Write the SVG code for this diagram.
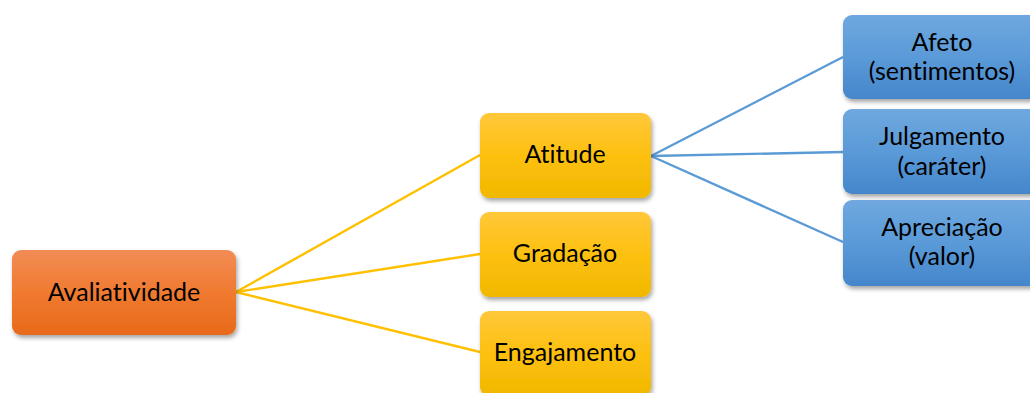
<svg xmlns="http://www.w3.org/2000/svg" width="1030" height="393" viewBox="0 0 1030 393">
<defs>
<linearGradient id="gO" x1="0" y1="0" x2="0" y2="1">
<stop offset="0" stop-color="#F28C55"/><stop offset="0.5" stop-color="#F07A30"/><stop offset="1" stop-color="#E86A1A"/>
</linearGradient>
<linearGradient id="gY" x1="0" y1="0" x2="0" y2="1">
<stop offset="0" stop-color="#FFC83A"/><stop offset="0.5" stop-color="#FDC010"/><stop offset="1" stop-color="#F0B800"/>
</linearGradient>
<linearGradient id="gB" x1="0" y1="0" x2="0" y2="1">
<stop offset="0" stop-color="#6FA8DF"/><stop offset="0.5" stop-color="#5A9AD8"/><stop offset="1" stop-color="#4586CB"/>
</linearGradient>
<filter id="sh" x="-10%" y="-10%" width="125%" height="135%">
<feDropShadow dx="1.5" dy="3" stdDeviation="2.2" flood-color="#000" flood-opacity="0.35"/>
</filter>
</defs>
<style>
.n{filter:url(#sh)}
.t{font-family:Lato,"Liberation Sans",sans-serif;font-size:25px;fill:#000;text-anchor:middle;font-variant-ligatures:none;font-feature-settings:"liga" 0,"dlig" 0}
.ly{stroke:#FFC000;stroke-width:2.4;fill:none}
.lb{stroke:#5B9BD5;stroke-width:2.4;fill:none}
</style>
<rect width="1030" height="393" fill="#fff"/>
<g id="connectors">
<line class="ly" x1="236" y1="292" x2="480" y2="155"/>
<line class="ly" x1="236" y1="292" x2="480" y2="254"/>
<line class="ly" x1="236" y1="292" x2="480" y2="352"/>
<line class="lb" x1="651" y1="156" x2="843" y2="57"/>
<line class="lb" x1="651" y1="156" x2="843" y2="152"/>
<line class="lb" x1="651" y1="156" x2="843" y2="242"/>
</g>
<g id="avaliatividade">
<rect class="n" x="12" y="250" width="224" height="85" rx="9" fill="url(#gO)"/>
<text class="t" x="124" y="301">Avaliatividade</text>
</g>
<g id="atitude">
<rect class="n" x="480" y="113" width="171" height="85" rx="9" fill="url(#gY)"/>
<text class="t" x="565" y="163">Atitude</text>
</g>
<g id="gradacao">
<rect class="n" x="480" y="212" width="171" height="85" rx="9" fill="url(#gY)"/>
<text class="t" x="565" y="262">Gradação</text>
</g>
<g id="engajamento">
<rect class="n" x="480" y="311" width="171" height="85" rx="9" fill="url(#gY)"/>
<text class="t" x="565" y="361">Engajamento</text>
</g>
<g id="afeto">
<rect class="n" x="843" y="15" width="200" height="84" rx="9" fill="url(#gB)"/>
<text class="t" x="942" y="51">Afeto</text>
<text class="t" x="942" y="80">(sentimentos)</text>
</g>
<g id="julgamento">
<rect class="n" x="843" y="109" width="200" height="85" rx="9" fill="url(#gB)"/>
<text class="t" x="942" y="145">Julgamento</text>
<text class="t" x="942" y="175">(caráter)</text>
</g>
<g id="apreciacao">
<rect class="n" x="843" y="200" width="200" height="86" rx="9" fill="url(#gB)"/>
<text class="t" x="942" y="236">Apreciação</text>
<text class="t" x="942" y="265">(valor)</text>
</g>
</svg>
